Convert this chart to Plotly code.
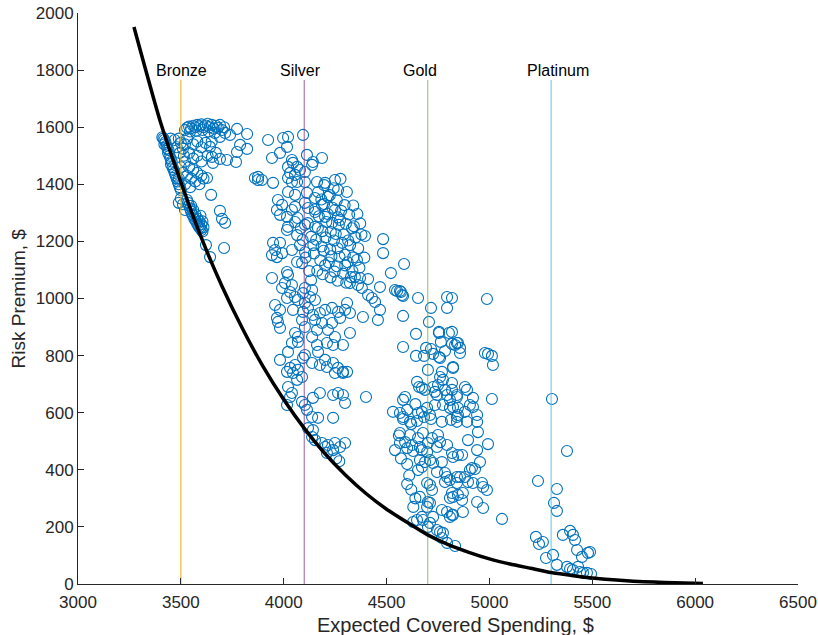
import plotly.graph_objects as go

# ---------------- data ----------------
plan_names = ["Bronze", "Silver", "Gold", "Platinum"]
plan_spending = [3500, 4100, 4700, 5300]
plan_colors = ["rgba(237,177,32,0.85)", "rgba(126,47,142,0.6)", "rgba(119,172,48,0.6)", "rgba(77,190,238,0.7)"]
label_shift_px = [1, -4, -8, 7]

curve_x = [3272, 3400, 3500, 3600, 3700, 3800, 3900, 4000, 4100, 4200, 4300, 4400, 4500, 4600,
           4700, 4800, 4900, 5000, 5100, 5200, 5300, 5400, 5500, 5600, 5700, 5800, 5900, 6038]
curve_y = [1951, 1620, 1408, 1212, 1043, 894, 761, 646, 545, 457, 382, 317, 262, 216,
           172, 138, 111, 88, 70, 55, 40, 30, 21, 15, 10, 6.7, 4, 2]

bronze_pts = [
    (3410, 1565), (3415, 1560), (3420, 1555), (3425, 1548), (3420, 1540), (3430, 1535), (3435, 1525),
    (3440, 1520), (3438, 1510), (3445, 1500), (3450, 1490), (3455, 1480), (3452, 1470), (3460, 1460),
    (3465, 1450), (3470, 1440), (3475, 1430), (3480, 1420), (3485, 1410), (3490, 1400), (3495, 1390),
    (3500, 1380), (3530, 1345), (3535, 1335), (3540, 1325), (3545, 1315), (3550, 1305), (3555, 1295),
    (3560, 1290), (3565, 1280), (3570, 1275), (3575, 1268), (3580, 1262), (3585, 1255), (3590, 1250),
    (3595, 1245), (3600, 1240), (3605, 1235), (3600, 1260), (3590, 1270), (3580, 1280), (3570, 1295),
    (3560, 1310), (3550, 1325), (3610, 1250), (3605, 1270), (3595, 1290),
    (3520, 1590), (3530, 1598), (3540, 1602), (3550, 1596), (3560, 1605), (3570, 1600), (3580, 1608),
    (3590, 1603), (3600, 1610), (3610, 1600), (3620, 1606), (3630, 1612), (3640, 1600), (3650, 1608),
    (3660, 1595), (3670, 1605), (3680, 1598), (3690, 1608), (3545, 1585), (3575, 1588), (3605, 1590),
    (3635, 1585), (3665, 1580), (3700, 1590), (3710, 1600),
    (3450, 1560), (3470, 1555), (3490, 1560), (3500, 1545), (3480, 1530), (3510, 1525), (3530, 1560),
    (3520, 1540), (3495, 1510), (3515, 1500), (3540, 1510), (3560, 1540), (3580, 1550), (3600, 1530),
    (3620, 1545), (3650, 1550), (3560, 1490), (3580, 1500), (3600, 1480), (3630, 1500), (3670, 1510),
    (3773, 1594), (3822, 1576), (3739, 1573), (3715, 1580), (3690, 1566), (3788, 1538), (3822, 1524),
    (3773, 1513), (3768, 1478), (3724, 1485), (3690, 1489), (3651, 1496), (3656, 1475), (3642, 1531),
    (3860, 1422), (3875, 1415),
    (3520, 1480), (3540, 1460), (3560, 1450), (3580, 1440), (3600, 1430), (3530, 1430), (3550, 1420),
    (3510, 1440), (3500, 1460), (3490, 1420), (3520, 1400), (3545, 1390), (3570, 1410), (3590, 1400),
    (3610, 1420), (3500, 1350), (3510, 1330), (3520, 1310), (3490, 1335),
    (3627, 1422), (3647, 1363), (3690, 1307), (3700, 1279), (3715, 1265), (3710, 1177), (3622, 1187),
    (3642, 1145),
]

silver_pts = [
    (3924, 1555), (3997, 1562), (4021, 1566), (4016, 1531), (3982, 1510), (3943, 1492), (4094, 1573),
    (4113, 1503), (4142, 1478), (4138, 1468), (4186, 1492), (4040, 1485), (4045, 1475), (4021, 1461),
    (4065, 1461), (4031, 1440), (4055, 1433), (4079, 1450), (4103, 1443), (4040, 1408), (4065, 1408),
    (4021, 1422), (3875, 1426), (3894, 1415), (3948, 1405), (4103, 1408), (4162, 1408), (4201, 1405),
    (4249, 1415), (4021, 1373), (4055, 1363), (4113, 1370), (4167, 1373), (4264, 1380), (4152, 1352),
    (4215, 1356), (3972, 1345), (3992, 1328), (3967, 1310), (3982, 1293), (4016, 1286), (4040, 1310),
    (4055, 1321), (4103, 1335), (4118, 1317), (4152, 1303), (4186, 1328), (4201, 1286), (4249, 1310),
    (4274, 1275), (4235, 1265), (4055, 1268), (4021, 1251), (4152, 1251), (4103, 1258),
    (3948, 1195), (3982, 1195), (3958, 1170), (3943, 1152), (3992, 1159), (3967, 1145), (4016, 1240),
    (4065, 1222), (4079, 1187), (4040, 1170), (4065, 1128), (4089, 1124), (3943, 1072), (4016, 1093),
    (4021, 1082), (4006, 1054), (4040, 1047), (3992, 1037), (4031, 1023), (4055, 1005), (4016, 1002),
    (4069, 995), (4103, 1037), (4094, 1019), (4138, 1030), (4128, 1005), (4152, 995), (4103, 984),
    (3958, 977), (3982, 960), (3967, 932), (3972, 918), (3982, 897), (4045, 960), (4094, 953),
    (4118, 967), (4142, 942), (4176, 949), (4201, 960), (4235, 967), (4264, 953), (4152, 925),
    (4186, 914), (4235, 914), (4274, 932), (4089, 925), (4103, 900), (4162, 890), (4215, 890),
    (4055, 879), (4069, 865), (4138, 865), (4249, 865),
    (4040, 844), (4069, 848), (4162, 837), (4210, 844), (4240, 837), (4167, 813), (4103, 802),
    (4094, 792), (4021, 813), (3982, 785), (4055, 767), (4031, 757), (4016, 743), (4045, 739),
    (4069, 750), (4089, 725), (4065, 715), (4138, 774), (4176, 767), (4201, 785), (4210, 760),
    (4240, 774), (4249, 739), (4264, 757), (4288, 743), (4021, 690), (4040, 669), (4031, 655),
    (4016, 627), (4089, 638), (4103, 627), (4113, 610), (4176, 669), (4240, 662), (4264, 669),
    (4142, 652), (4138, 585), (4167, 582), (4240, 582), (4118, 546), (4142, 539), (4138, 515),
    (4152, 504), (4186, 494), (4201, 480), (4215, 487), (4240, 469), (4249, 494), (4210, 459),
    (4274, 480), (4255, 440), (4270, 430), (4288, 837), (4308, 743), (4288, 739), (4288, 662),
    (4298, 634), (4400, 655), (4298, 494),
    (4395, 1219), (4483, 1208), (4483, 1159), (4585, 1121), (4521, 1089), (4468, 1040), (4541, 1030),
    (4565, 1026), (4575, 1012), (4410, 1012), (4429, 1002), (4444, 988), (4468, 960), (4385, 935),
    (4458, 925), (4322, 879), (4356, 1135), (4346, 1075), (4371, 1072), (4410, 1068), (4322, 1054),
    (4361, 1047), (4380, 1037), (4308, 984), (4298, 960), (4322, 949),
    (4152, 1312), (4171, 1288), (4196, 1331), (4214, 1296), (4237, 1318), (4263, 1284), (4279, 1307),
    (4302, 1262), (4318, 1294), (4341, 1253), (4166, 1247), (4188, 1236), (4207, 1268), (4229, 1233),
    (4253, 1226), (4268, 1258), (4292, 1224), (4313, 1203), (4332, 1246), (4349, 1214), (4158, 1206),
    (4184, 1182), (4203, 1214), (4226, 1172), (4244, 1203), (4262, 1176), (4284, 1195), (4297, 1153),
    (4323, 1187), (4338, 1144), (4147, 1158), (4178, 1134), (4194, 1167), (4219, 1126), (4232, 1148),
    (4258, 1113), (4271, 1146), (4299, 1116), (4311, 1127), (4334, 1096), (4163, 1097), (4189, 1085),
    (4201, 1116), (4228, 1074), (4247, 1094), (4262, 1062), (4289, 1087), (4304, 1055), (4327, 1075),
    (4117, 1264), (4133, 1216), (4144, 1187), (4106, 1143), (4124, 1096), (4133, 1064), (4092, 1205),
    (4104, 1162), (4083, 1246), (4067, 1282), (4183, 1347), (4224, 1362), (4258, 1344), (4296, 1327),
    (4243, 1386), (4197, 1397), (4276, 1419), (4307, 1373), (4338, 1326), (4358, 1296), (4372, 1263),
    (4378, 1224), (4362, 1176), (4392, 1143), (4368, 1108),
]

gold_pts = [
    (4551, 1026), (4570, 1023), (4580, 1009), (4653, 1002), (4794, 1005), (4794, 967), (4716, 967),
    (4706, 918), (4580, 939), (4643, 876), (4755, 883), (4755, 879), (4803, 879), (4764, 848),
    (4818, 841), (4842, 844), (4580, 830), (4643, 799), (4682, 799), (4692, 827), (4716, 823),
    (4726, 806), (4755, 795), (4784, 816), (4760, 792), (4823, 760), (4701, 750), (4769, 743),
    (4760, 725), (4774, 715), (4750, 697), (4818, 704), (4648, 708), (4658, 690), (4672, 687),
    (4687, 680), (4726, 690), (4735, 673), (4745, 662), (4784, 680), (4794, 662), (4808, 645),
    (4842, 662), (4590, 655), (4580, 645), (4531, 603), (4565, 599), (4580, 585), (4653, 599),
    (4672, 603), (4697, 617), (4711, 592), (4735, 627), (4774, 627), (4808, 617),
    (4580, 578), (4614, 568), (4648, 571), (4682, 585), (4716, 578), (4769, 568), (4813, 575),
    (4842, 585), (4565, 529), (4614, 522), (4653, 511), (4677, 529), (4721, 511), (4750, 522),
    (4760, 497), (4565, 494), (4590, 497), (4624, 487), (4662, 480), (4701, 494), (4745, 480),
    (4794, 487), (4541, 469), (4600, 476), (4629, 466), (4672, 469), (4697, 462), (4818, 459),
    (4823, 445), (4847, 452), (4662, 434), (4687, 427), (4711, 434), (4726, 424), (4653, 399),
    (4672, 410), (4769, 427), (4745, 392), (4784, 389), (4794, 375), (4808, 364), (4842, 375),
    (4784, 357), (4818, 319), (4823, 305), (4808, 301), (4847, 312), (4697, 354), (4711, 347),
    (4721, 329), (4662, 305), (4701, 287), (4711, 284), (4697, 270), (4672, 235), (4648, 224),
    (4629, 217), (4677, 224), (4711, 214), (4701, 200), (4769, 259), (4794, 252), (4808, 235),
    (4818, 242), (4726, 235), (4745, 189), (4760, 182), (4774, 179), (4794, 144), (4769, 161),
    (4842, 568), (4891, 568), (4940, 568), (4944, 532), (4896, 504), (4940, 469), (4993, 490),
    (4867, 452), (4954, 427), (4905, 399), (4930, 403), (4915, 406), (4857, 375), (4881, 375),
    (4842, 354), (4896, 357), (4920, 354), (4964, 354), (4969, 340), (4988, 329), (4871, 319),
    (4867, 294), (4940, 287), (4969, 266), (4871, 252), (4823, 242), (5061, 228), (4833, 133),
    (4988, 998), (4818, 1002), (4818, 883), (4833, 837), (4847, 844), (4857, 827), (4857, 809),
    (4978, 809), (4993, 806), (5012, 799), (5017, 767), (4823, 757), (4881, 690), (4891, 680),
    (4842, 655), (4920, 652), (4818, 680), (5012, 648), (4823, 620), (4847, 617), (4905, 627),
    (4920, 620), (4881, 603), (4940, 592), (4847, 592),
    (4560, 520), (4570, 440), (4600, 420), (4610, 380), (4600, 350), (4620, 330), (4640, 300),
    (4630, 270), (4620, 560), (4640, 630), (4600, 610),
]

platinum_pts = [
    (5304, 648), (5377, 466), (5236, 361), (5328, 333), (5314, 284), (5328, 256), (5226, 165),
    (5241, 140), (5260, 147), (5275, 91), (5309, 102), (5328, 67), (5357, 172), (5392, 186),
    (5406, 172), (5416, 154), (5426, 119), (5450, 95), (5479, 109), (5489, 112), (5377, 60),
    (5392, 53), (5406, 49), (5431, 60), (5440, 42), (5455, 39), (5474, 39), (5494, 35),
]

x_ticks = [3000, 3500, 4000, 4500, 5000, 5500, 6000, 6500]
y_ticks = [0, 200, 400, 600, 800, 1000, 1200, 1400, 1600, 1800, 2000]

# ---------------- figure ----------------
FONT = "Liberation Sans, Arial, sans-serif"
TXT = "#262626"

all_pts = bronze_pts + silver_pts + gold_pts + platinum_pts
px = [p[0] for p in all_pts]
py = [p[1] for p in all_pts]

fig = go.Figure()
fig.add_trace(go.Scatter(
    x=px, y=py, mode="markers",
    marker=dict(symbol="circle-open", size=11, color="#0072BD", line=dict(width=1.1)),
    showlegend=False, hoverinfo="x+y"))

for name, xv, col, sh in zip(plan_names, plan_spending, plan_colors, label_shift_px):
    fig.add_trace(go.Scatter(x=[xv, xv], y=[0, 1765], mode="lines",
                             line=dict(color=col, width=1.3), showlegend=False, hoverinfo="skip"))
    fig.add_annotation(x=xv, y=1800, text=name, showarrow=False, xshift=sh,
                       font=dict(size=16, color="#000000", family=FONT),
                       xanchor="center", yanchor="middle")

fig.add_trace(go.Scatter(x=curve_x, y=curve_y, mode="lines",
                         line=dict(color="black", width=3.5, shape="spline", smoothing=0.6),
                         showlegend=False, hoverinfo="skip"))

axis_common = dict(showline=True, linecolor=TXT, linewidth=1, ticks="inside", ticklen=6,
                   tickcolor=TXT, showgrid=False, zeroline=False, mirror=False, automargin=False,
                   tickfont=dict(size=17, color=TXT, family=FONT))

fig.update_layout(
    width=818, height=635,
    margin=dict(l=78, r=20, t=13, b=51, autoexpand=False),
    paper_bgcolor="white", plot_bgcolor="white",
    font=dict(family=FONT),
    xaxis=dict(range=[3000, 6500], tickvals=x_ticks, ticktext=[str(v) for v in x_ticks],
               ticklabelstandoff=3, **axis_common),
    yaxis=dict(range=[0, 2000], tickvals=y_ticks, ticktext=[str(v) for v in y_ticks], **axis_common),
)

# axis titles placed as annotations (pixel-accurate positions)
fig.add_annotation(xref="paper", yref="paper", x=(455 - 78) / 720, y=-(625 - 584) / 571,
                   text="Expected Covered Spending, $", showarrow=False,
                   font=dict(size=20, color=TXT, family=FONT), xanchor="center", yanchor="middle")
fig.add_annotation(xref="paper", yref="paper", x=-(78 - 18) / 720, y=0.5,
                   text="Risk Premium, $", showarrow=False, textangle=-90,
                   font=dict(size=19, color=TXT, family=FONT), xanchor="center", yanchor="middle")

fig.write_html("out.html")
